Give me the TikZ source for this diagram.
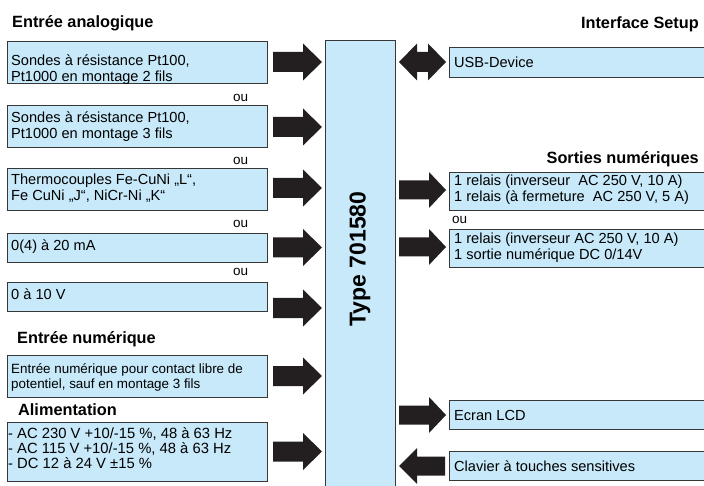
\documentclass[tikz,border=0pt]{standalone}
\usepackage{fontspec}
\setmainfont{Liberation Sans}
\definecolor{boxblue}{RGB}{199,233,249}
\definecolor{edgecol}{RGB}{55,55,55}
\definecolor{arrowcol}{RGB}{35,31,32}
\tikzset{
  box/.style={draw=edgecol, fill=boxblue, line width=0.9pt, inner sep=0, anchor=north west},
  txt/.style={anchor=base west, inner sep=0, align=left, font=\fontsize{14.6}{16}\selectfont},
  smalltxt/.style={anchor=base west, inner sep=0, align=left, font=\fontsize{13.4}{15.5}\selectfont},
  alimtxt/.style={anchor=base west, inner sep=0, align=left, font=\fontsize{14.8}{14.6}\selectfont},
  outxt/.style={anchor=base west, inner sep=0, font=\fontsize{13.5}{15}\selectfont},
  ttl/.style={inner sep=0, font=\fontsize{16.3}{18}\selectfont\bfseries},
  rarr/.pic={\fill[arrowcol] (0,-10) -- (30,-10) -- (30,-18.5) -- (49,0) -- (30,18.5) -- (30,10) -- (0,10) -- cycle;},
  rarrb/.pic={\fill[arrowcol] (0,-9.5) -- (30,-9.5) -- (30,-18) -- (47,0) -- (30,18) -- (30,9.5) -- (0,9.5) -- cycle;},
  larr/.pic={\fill[arrowcol] (0,0) -- (18,-18) -- (18,-9.5) -- (46,-9.5) -- (46,9.5) -- (18,9.5) -- (18,18) -- cycle;},
  darr/.pic={\fill[arrowcol] (0,0) -- (18,-18.5) -- (18,-10) -- (29,-10) -- (29,-18.5) -- (47,0) -- (29,18.5) -- (29,10) -- (18,10) -- (18,18.5) -- cycle;},
}
\begin{document}
\begin{tikzpicture}[x=1pt,y=-1pt]
\useasboundingbox (0,0) rectangle (704,486);
% central block
\node[box, minimum width=70pt, minimum height=460pt] (core) at (325,40) {};
\node[inner sep=0, rotate=90, font=\fontsize{23}{26}\selectfont\bfseries] (coretxt) at (360,259) {Type 701580};
% titles left
\node[ttl, anchor=base west] (t1) at (12,27.5) {Entrée analogique};
\node[ttl, anchor=base west] (t2) at (17,343) {Entrée numérique};
\node[ttl, anchor=base west] (t3) at (18,415) {Alimentation};
% left boxes
\node[box, minimum width=260pt, minimum height=42pt] (b1) at (7,41) {};
\node[txt] (b1t) at (11,81.7) {Sondes à résistance Pt100,\\Pt1000 en montage 2 fils};
\node[outxt] (ou1) at (233,102) {ou};
\node[box, minimum width=260pt, minimum height=42pt] (b2) at (7,105) {};
\node[txt] (b2t) at (11,139) {Sondes à résistance Pt100,\\Pt1000 en montage 3 fils};
\node[outxt] (ou2) at (233,165) {ou};
\node[box, minimum width=260pt, minimum height=42pt] (b3) at (7,168) {};
\node[txt] (b3t) at (11,201) {Thermocouples Fe-CuNi „L“,\\Fe CuNi „J“, NiCr-Ni „K“};
\node[outxt] (ou3) at (233,228) {ou};
\node[box, minimum width=260pt, minimum height=29pt] (b4) at (7,233) {};
\node[txt] (b4t) at (11,251) {0(4) à 20 mA};
\node[outxt] (ou4) at (233,276) {ou};
\node[box, minimum width=260pt, minimum height=29pt] (b5) at (7,282) {};
\node[txt] (b5t) at (11,300) {0 à 10 V};
\node[box, minimum width=260pt, minimum height=42pt] (b6) at (7,355) {};
\node[smalltxt] (b6t) at (11,388.5) {Entrée numérique pour contact libre de\\potentiel, sauf en montage 3 fils};
\node[box, minimum width=260pt, minimum height=59pt] (b7) at (7,422) {};
\node[alimtxt] (b7t) at (8,468) {- AC 230 V +10/-15 \%, 48 à 63 Hz\\- AC 115 V +10/-15 \%, 48 à 63 Hz\\- DC 12 à 24 V ±15 \%};
% left arrows
\pic at (273,62) {rarr};
\pic at (273,127) {rarr};
\pic at (273,188) {rarr};
\pic at (273,247.5) {rarr};
\pic at (273,308) {rarr};
\pic at (273,376) {rarr};
\pic at (273,451.5) {rarr};
% right titles
\node[ttl, anchor=base east] (t4) at (699,29) {Interface Setup};
\node[ttl, anchor=base east] (t5) at (699,164) {Sorties numériques};
% right boxes
\node[box, minimum width=258pt, minimum height=30pt] (r1) at (449,47) {};
\node[txt] (r1t) at (454,68) {USB-Device};
\node[box, minimum width=258pt, minimum height=38pt] (r2) at (449,172) {};
\node[txt] (r2t) at (454,202) {1 relais (inverseur\ \ AC 250 V, 10 A)\\1 relais (à fermeture\ \ AC 250 V, 5 A)};
\node[outxt] (ou5) at (452,224) {ou};
\node[box, minimum width=258pt, minimum height=38pt] (r3) at (449,229) {};
\node[txt] (r3t) at (454,260) {1 relais (inverseur AC 250 V, 10 A)\\1 sortie numérique DC 0/14V};
\node[box, minimum width=258pt, minimum height=29pt] (r4) at (449,400) {};
\node[txt] (r4t) at (454,420) {Ecran LCD};
\node[box, minimum width=258pt, minimum height=29pt] (r5) at (449,451) {};
\node[txt] (r5t) at (454,471) {Clavier à touches sensitives};
% right arrows
\pic at (399,62) {darr};
\pic at (399,190) {rarrb};
\pic at (399,247) {rarrb};
\pic at (399,415) {rarrb};
\pic at (399,466) {larr};
\end{tikzpicture}
\end{document}
